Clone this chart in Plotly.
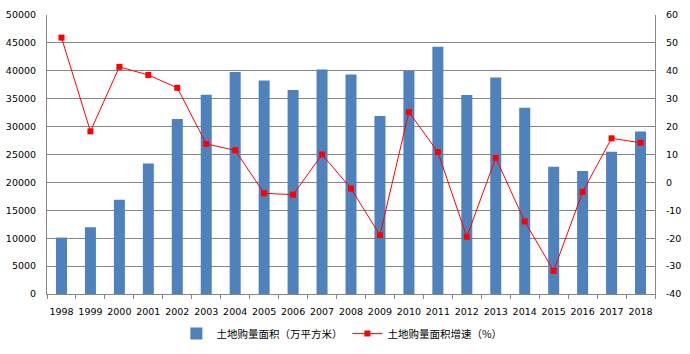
import plotly.graph_objects as go

years = [str(y) for y in range(1998, 2019)]
area = [10109, 11959, 16905, 23409, 31357, 35697, 39785, 38254, 36574, 40246, 39353,
        31906, 39953, 44327, 35667, 38814, 33383, 22811, 22025, 25508, 29142]
growth = [51.9, 18.3, 41.4, 38.5, 33.9, 13.8, 11.5, -3.9, -4.4, 10.0, -2.2,
          -18.9, 25.2, 10.9, -19.5, 8.8, -14.0, -31.7, -3.4, 15.8, 14.2]
right_ticks = [-40, -30, -20, -10, 0, 10, 20, 30, 40, 50, 60]
right_labels = ["-40", "-30", "-20", "-10", "0", "10", "20", "30", "40", "50", "60"]
bar_name = "土地购量面积（万平方米）"
line_name = "土地购量面积增速（%）"

FONT = "DejaVu Sans, Noto Sans CJK SC, sans-serif"
GRID = "#868686"

fig = go.Figure()
fig.add_trace(go.Bar(x=years, y=area, name=bar_name, marker=dict(color="#4F81BD", line=dict(width=0)),
                     width=0.38))
fig.add_trace(go.Scatter(x=years, y=growth, name=line_name, yaxis="y2", mode="lines+markers",
                         line=dict(color="#FF0000", width=1),
                         marker=dict(symbol="square", size=6, color="#FF0000")))

fig.update_layout(
    width=690, height=354,
    margin=dict(l=47, r=35, t=15, b=60, autoexpand=False),
    paper_bgcolor="white", plot_bgcolor="white",
    font=dict(family=FONT, size=9.5, color="#000000"),
    showlegend=True,
    legend=dict(orientation="h", x=0.485, xanchor="center", y=-0.09, yanchor="top",
                font=dict(family="Noto Sans CJK SC, DejaVu Sans", size=10.5),
                itemwidth=30, tracegroupgap=0),
    bargap=0.62,
    xaxis=dict(type="category", range=[-0.5, 20.5], automargin=False, tickangle=0,
               showgrid=False, showline=True, linecolor=GRID, linewidth=1,
               ticks="outside", tickson="boundaries", ticklen=4, tickcolor=GRID,
               ticklabelstandoff=9, tickfont=dict(size=9.5)),
    yaxis=dict(range=[0, 50000], dtick=5000, tickformat="d", automargin=False,
               showgrid=True, gridcolor=GRID, gridwidth=1,
               showline=True, linecolor=GRID, linewidth=1, ticks="", zeroline=False,
               ticklabelstandoff=8, tickfont=dict(size=9.5)),
    yaxis2=dict(range=[-40, 60], tickvals=right_ticks, ticktext=right_labels,
                overlaying="y", side="right", showgrid=False, automargin=False,
                showline=True, linecolor=GRID, linewidth=1, zeroline=False, ticks="",
                ticklabelstandoff=8, tickfont=dict(size=9.5)),
)

fig.write_html("out.html")
